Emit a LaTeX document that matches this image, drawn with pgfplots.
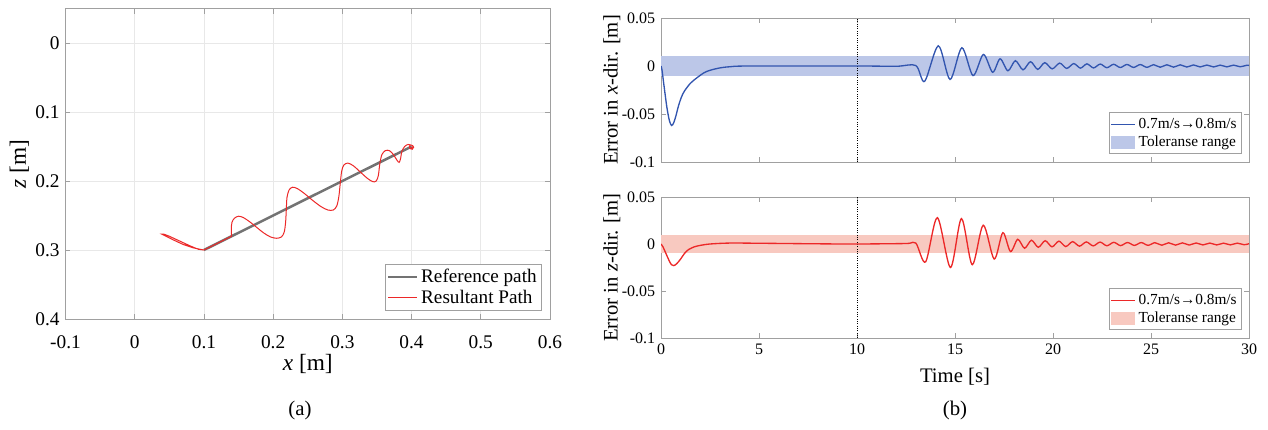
\documentclass[border=0pt]{standalone}
\usepackage{fontspec}
\setmainfont{Liberation Serif}
\usepackage{pgfplots}
\pgfplotsset{compat=1.18}

\definecolor{axgray}{RGB}{160,160,160}
\definecolor{gridgray}{RGB}{232,232,232}
\definecolor{refgray}{RGB}{115,115,115}
\definecolor{pathred}{RGB}{236,40,40}
\definecolor{errblue}{RGB}{50,85,175}
\definecolor{errred}{RGB}{236,40,40}
\definecolor{bandblue}{RGB}{188,199,232}
\definecolor{bandred}{RGB}{248,201,192}

\pgfplotsset{
  matlab/.style={
    scale only axis,
    axis line style={axgray},
    tick style={axgray, thin},
    major tick length=3pt,
    tick align=inside,
    /pgf/number format/assume math mode=true,
    legend cell align=left,
    legend style={draw=axgray, fill=white, inner sep=1pt, row sep=-1pt},
    legend image code/.code={\draw[#1] (0pt,0pt) -- (14pt,0pt);},
  },
  bandlegend/.style={
    legend image code/.code={\fill[#1] (0pt,-3.6pt) rectangle (14pt,3.6pt);},
  },
  errax/.style={
    matlab,
    width=352.8pt,
    xmin=0, xmax=30, ymin=-0.1, ymax=0.05,
    xtick={0,5,...,30},
    ytick={-0.1,-0.05,0,0.05},
    yticklabels={-0.1,-0.05,0,0.05},
    ticklabel style={font=\fontsize{9.6}{11}\selectfont},
    label style={font=\fontsize{12.4}{14}\selectfont},
    ylabel shift=-6pt,
    legend style={at={(1,0)}, anchor=south east, xshift=-4.2pt, yshift=4.8pt,
      font=\fontsize{9.2}{10}\selectfont},
  },
}

\begin{document}
\begin{tikzpicture}[x=1pt,y=1pt]
\path[use as bounding box] (0,0) rectangle (760.8,257.4);

% (a) path in the x-z plane
\begin{axis}[
  matlab,
  at={(39.3pt,66pt)}, anchor=south west,
  width=290.7pt, height=186.3pt,
  xmin=-0.1, xmax=0.6, ymin=-0.05, ymax=0.4,
  y dir=reverse,
  xtick={-0.1,0,...,0.6},
  xticklabels={-0.1,0,0.1,0.2,0.3,0.4,0.5,0.6},
  ytick={0,0.1,...,0.4},
  yticklabels={0,0.1,0.2,0.3,0.4},
  grid=major, grid style={gridgray, thin},
  ticklabel style={font=\fontsize{11.6}{13}\selectfont},
  xticklabel shift=6.5pt,
  label style={font=\fontsize{14}{16}\selectfont},
  xlabel={\textit{x} [m]}, ylabel={\textit{z} [m]},
  xlabel shift=-3.4pt, ylabel shift=-3pt,
  legend style={at={(1,0)}, anchor=south east, xshift=-4.8pt, yshift=4.8pt,
    font=\fontsize{11.5}{13}\selectfont},
  legend image code/.code={\draw[#1] (0pt,0pt) -- (17pt,0pt);},
]
\addplot[refgray, line width=1.5pt] coordinates {(0.1,0.3) (0.4,0.15)};
\addlegendentry{Reference path}
\addplot[pathred, line width=0.6pt] coordinates {
  (0.1,0.300) (0.085,0.297) (0.07,0.292) (0.055,0.285) (0.043,0.279) (0.039,0.277)
  (0.042,0.277) (0.05,0.280) (0.065,0.287) (0.08,0.294) (0.092,0.299) (0.1,0.300)
  (0.12,0.290) (0.140,0.280)};
\addlegendentry{Resultant Path}
\addplot[pathred, line width=0.6pt, smooth, tension=0.5, forget plot] coordinates {
  (0.140,0.280) (0.1395,0.270) (0.1405,0.260) (0.144,0.254) (0.150,0.251)
  (0.157,0.253) (0.166,0.259) (0.176,0.267) (0.186,0.275) (0.196,0.281)
  (0.205,0.283) (0.212,0.281) (0.216,0.274) (0.218,0.260) (0.219,0.242)
  (0.220,0.224) (0.223,0.213) (0.228,0.209) (0.235,0.211) (0.245,0.218)
  (0.257,0.228) (0.269,0.237) (0.279,0.242) (0.287,0.242) (0.292,0.236)
  (0.295,0.222) (0.297,0.203) (0.299,0.186) (0.302,0.177) (0.308,0.174)
  (0.316,0.178) (0.326,0.187) (0.336,0.196) (0.344,0.201) (0.349,0.200)
  (0.352,0.192) (0.354,0.176) (0.357,0.162) (0.362,0.156) (0.368,0.156)
  (0.374,0.162) (0.379,0.170) (0.382,0.173) (0.384,0.168) (0.386,0.157)
  (0.390,0.150) (0.395,0.147) (0.400,0.148) (0.403,0.151) (0.401,0.154)
  (0.397,0.152) (0.398,0.148) (0.402,0.149) (0.401,0.153) (0.399,0.151)};
\end{axis}

% (b) top: error in x
\begin{axis}[
  errax,
  at={(396.6pt,160.2pt)}, anchor=south west,
  height=86.4pt,
  xticklabels={},
  ylabel={Error in \textit{x}-dir. [m]},
]
\addplot[draw=none, fill=bandblue, forget plot] coordinates {(0,-0.01) (30,-0.01) (30,0.01) (0,0.01)} -- cycle;
\addplot[black, densely dotted, thin, forget plot] coordinates {(10,-0.1) (10,0.05)};
\addplot[errblue, line width=0.8pt, smooth] coordinates {
  (0,0) (0.05,-0.004) (0.15,-0.02) (0.3,-0.043) (0.43,-0.057) (0.54,-0.062)
  (0.65,-0.059) (0.76,-0.052) (0.9,-0.041) (1.05,-0.032) (1.2,-0.026)
  (1.5,-0.018) (1.85,-0.012) (2.2,-0.007) (2.5,-0.0045) (3.0,-0.002)
  (3.5,-0.0008) (4.5,0) (10,0) (12,-0.0003) (13.0,0.0005)
  (13.45,-0.016) (14.15,0.021) (14.75,-0.014) (15.35,0.019) (15.92,-0.010)
  (16.45,0.012) (16.92,-0.0065) (17.3,0.0075) (17.7,-0.005) (18.08,0.0055)
  (18.47,-0.004) (18.85,0.0045) (19.22,-0.0035) (19.58,0.0035) (19.96,-0.003)
  (20.34,0.003) (20.7,-0.0025) (21.06,0.0025) (21.4,-0.0022) (21.73,0.0022)
  (22.07,-0.002) (22.41,0.002) (22.75,-0.0018) (23.09,0.0018) (23.43,-0.0016)
  (23.77,0.0016) (24.11,-0.0015) (24.45,0.0015) (24.79,-0.0014) (25.13,0.0014)
  (25.47,-0.0013) (25.81,0.0013) (26.15,-0.0012) (26.49,0.0012) (26.83,-0.0011)
  (27.17,0.0011) (27.51,-0.001) (27.85,0.001) (28.19,-0.001) (28.53,0.0009)
  (28.87,-0.0009) (29.21,0.0009) (29.55,-0.0008) (29.89,0.0008) (30,0.0005)};
\addlegendentry{0.7m/s→0.8m/s}
\addlegendimage{bandlegend, bandblue}
\addlegendentry{Toleranse range}
\end{axis}

% (b) bottom: error in z
\begin{axis}[
  errax,
  at={(396.6pt,54.6pt)}, anchor=south west,
  height=84.6pt,
  xticklabels={0,5,10,15,20,25,30},
  xlabel={Time [s]}, xlabel shift=1pt,
  ylabel={Error in \textit{z}-dir. [m]},
]
\addplot[draw=none, fill=bandred, forget plot] coordinates {(0,-0.01) (30,-0.01) (30,0.01) (0,0.01)} -- cycle;
\addplot[black, densely dotted, thin, forget plot] coordinates {(10,-0.1) (10,0.05)};
\addplot[errred, line width=0.8pt, smooth] coordinates {
  (0,0) (0.1,-0.003) (0.25,-0.010) (0.4,-0.017) (0.53,-0.022) (0.65,-0.023)
  (0.8,-0.021) (1.0,-0.016) (1.2,-0.010) (1.4,-0.006) (1.7,-0.003) (2.0,-0.0015)
  (2.5,0) (3.5,0.001) (5,0.0008) (8,0.0002) (10,0) (12.5,0.0005) (13.0,0.001)
  (13.5,-0.019) (14.1,0.028) (14.77,-0.025) (15.33,0.027) (15.88,-0.022)
  (16.44,0.020) (17.0,-0.016) (17.44,0.012) (17.83,-0.008) (18.2,0.005)
  (18.55,-0.0045) (18.9,0.004) (19.25,-0.0035) (19.6,0.0035) (19.95,-0.003)
  (20.3,0.003) (20.65,-0.0027) (21.0,0.0025) (21.35,-0.0023) (21.7,0.0022)
  (22.05,-0.002) (22.4,0.002) (22.75,-0.0019) (23.1,0.0018) (23.45,-0.0017)
  (23.8,0.0016) (24.15,-0.0015) (24.5,0.0015) (24.85,-0.0014) (25.2,0.0014)
  (25.55,-0.0013) (25.9,0.0013) (26.25,-0.0012) (26.6,0.0012) (26.95,-0.0011)
  (27.3,0.0011) (27.65,-0.001) (28.0,0.001) (28.35,-0.001) (28.7,0.0009)
  (29.05,-0.0009) (29.4,0.0009) (29.75,-0.0008) (30,0.0003)};
\addlegendentry{0.7m/s→0.8m/s}
\addlegendimage{bandlegend, bandred}
\addlegendentry{Toleranse range}
\end{axis}

\node[font=\fontsize{12.5}{14}\selectfont] at (180,11.4) {(a)};
\node[font=\fontsize{12.5}{14}\selectfont] at (573,11.4) {(b)};
\end{tikzpicture}
\end{document}
